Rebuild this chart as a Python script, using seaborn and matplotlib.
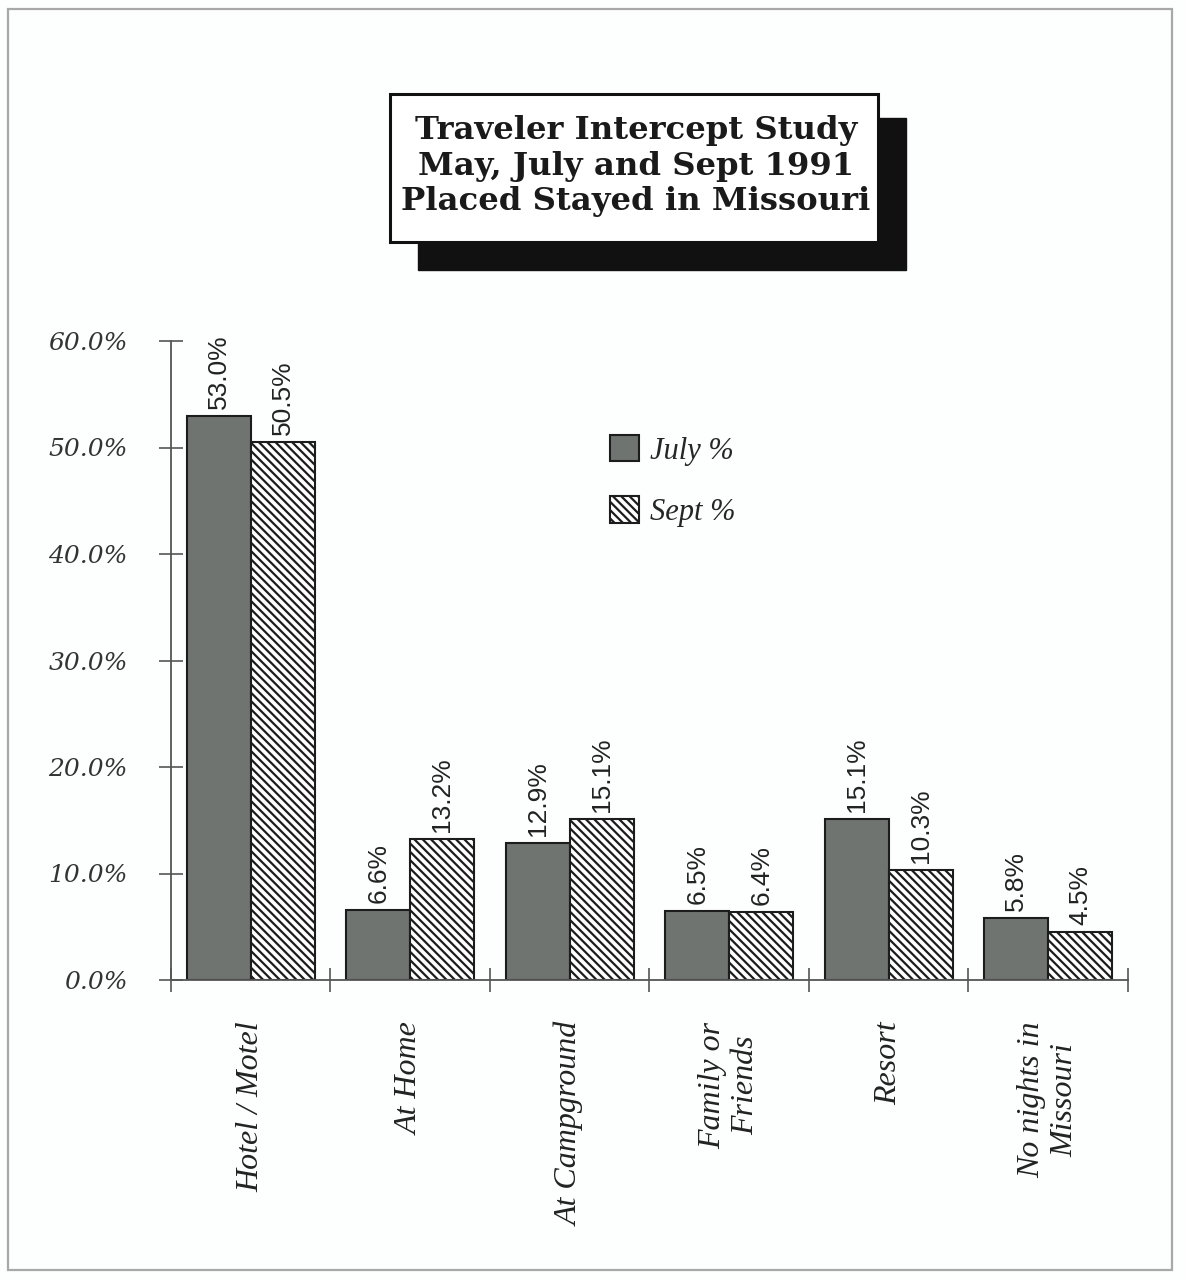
import numpy as np
import pandas as pd
import matplotlib
matplotlib.use("Agg")
import matplotlib.pyplot as plt
from matplotlib.patches import Rectangle, Patch
import seaborn as sns

# ---- data -------------------------------------------------------------
places = ["Hotel / Motel", "At Home", "At Campground",
          "Family or\nFriends", "Resort", "No nights in\nMissouri"]
july_pct = [53.0, 6.6, 12.9, 6.5, 15.1, 5.8]
sept_pct = [50.5, 13.2, 15.1, 6.4, 10.3, 4.5]
series_names = ["July %", "Sept %"]
y_ticks = [0, 10, 20, 30, 40, 50, 60]
title_lines = ["Traveler Intercept Study",
               "May, July and Sept 1991",
               "Placed Stayed in Missouri"]

df = pd.DataFrame({
    "place": places * 2,
    "pct": july_pct + sept_pct,
    "month": [series_names[0]] * len(places) + [series_names[1]] * len(places),
})

# ---- style ------------------------------------------------------------
sns.set_theme(style="white")
plt.rcParams["hatch.linewidth"] = 1.6
plt.rcParams["font.family"] = ["DejaVu Serif"]

W, H, DPI = 1187, 1279, 100
fig = plt.figure(figsize=(W / DPI, H / DPI), dpi=DPI)
fig.patch.set_facecolor("#fdfefe")


def fx(px):
    return px / W


def fy(py):
    return 1 - py / H


# outer page frame
fig.patches.append(Rectangle((fx(8), fy(1270)), fx(1172) - fx(8), fy(9) - fy(1270),
                             transform=fig.transFigure, fill=False,
                             edgecolor="#a8a8a8", linewidth=1.6, zorder=0))

ax = fig.add_axes([fx(171), fy(980), fx(1128) - fx(171), fy(341) - fy(980)])
ax.set_facecolor("none")

july_color = "#6f7471"
edge = "#1c1c1c"
sept_hatch = "\\\\\\\\"

sns.barplot(data=df, x="place", y="pct", hue="month", order=places,
            hue_order=series_names, palette=[july_color, "white"],
            edgecolor=edge, linewidth=1.5, width=0.8, legend=False,
            saturation=1, ax=ax)

# Sept bars: white with dense diagonal hatching
for bar in ax.containers[1]:
    bar.set_facecolor("white")
    bar.set_hatch(sept_hatch)
    bar.set_edgecolor(edge)

# value labels above bars
for cont, vals in zip(ax.containers, [july_pct, sept_pct]):
    ax.bar_label(cont, labels=[f"{v:.1f}%" for v in vals], rotation=90,
                 padding=5, fontsize=19, family="Liberation Sans", color="#222222")

# ---- axes -------------------------------------------------------------
ax.set_ylim(0, 60)
ax.set_xlim(-0.5, len(places) - 0.5)
ax.set_xlabel("")
ax.set_ylabel("")

ax.set_yticks(y_ticks)
ax.set_yticklabels([f"{v:.1f}%" for v in y_ticks], fontsize=18,
                   style="italic", family="DejaVu Serif", color="#333333")

ax.set_xticks(np.arange(-0.5, len(places), 1.0))
ax.set_xticklabels([""] * (len(places) + 1))
ax.set_xticks(np.arange(len(places)), minor=True)
ax.set_xticklabels(places, minor=True, rotation=90, fontsize=23,
                   style="italic", family="Liberation Serif", color="#222222",
                   ha="center", va="top", multialignment="center")

ax.tick_params(axis="both", which="major", direction="inout", length=17,
               width=1.2, color="#555555", bottom=True, left=True)
ax.tick_params(axis="y", which="major", pad=22.5)
ax.tick_params(axis="x", which="minor", length=0, pad=30, bottom=True)

for side in ["top", "right"]:
    ax.spines[side].set_visible(False)
for side in ["left", "bottom"]:
    ax.spines[side].set_color("#555555")
    ax.spines[side].set_linewidth(1.3)

# ---- legend -----------------------------------------------------------
handles = [
    Patch(facecolor=july_color, edgecolor=edge, linewidth=1.5, label=series_names[0]),
    Patch(facecolor="white", edgecolor=edge, linewidth=1.5, hatch=sept_hatch,
          label=series_names[1]),
]
fig.legend(handles=handles, loc="upper left",
           bbox_to_anchor=(fx(610), fy(435)), frameon=False,
           borderpad=0, borderaxespad=0, handlelength=0.95, handleheight=0.95,
           handletextpad=0.35, labelspacing=1.0,
           prop={"family": "Liberation Serif", "style": "italic", "size": 22})

# ---- title box with drop shadow ---------------------------------------
fig.patches.append(Rectangle((fx(418), fy(270)), fx(906) - fx(418), fy(118) - fy(270),
                             transform=fig.transFigure, facecolor="#111111",
                             edgecolor="#111111", zorder=1))
fig.patches.append(Rectangle((fx(390), fy(242)), fx(878) - fx(390), fy(94) - fy(242),
                             transform=fig.transFigure, facecolor="white",
                             edgecolor="#111111", linewidth=2.2, zorder=2))
fig.text(fx(636), fy(166), "\n".join(title_lines), ha="center", va="center",
         fontsize=23.2, fontweight="bold", family="DejaVu Serif",
         color="#1a1a1a", linespacing=1.18, zorder=3)

fig.savefig("out.png", dpi=DPI, facecolor=fig.get_facecolor())
